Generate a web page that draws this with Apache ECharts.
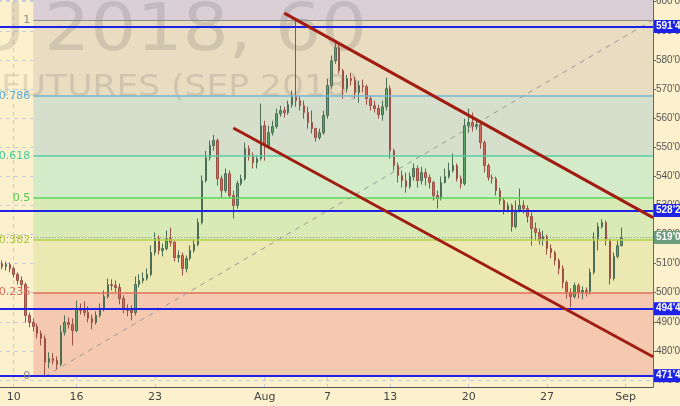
<!DOCTYPE html>
<html><head><meta charset="utf-8">
<script src="https://cdn.jsdelivr.net/npm/echarts@6/dist/echarts.min.js"></script>
<style>html,body{margin:0;padding:0;background:#fdf1cd}#c{width:680px;height:406px}</style>
</head><body><div id="c"></div>
<script>
// trading days (4 hourly-ish bars per day)
const days = ['Jul 9','Jul 10','Jul 11','Jul 12','Jul 13','Jul 16','Jul 17','Jul 18','Jul 19','Jul 20','Jul 23','Jul 24','Jul 25','Jul 26','Jul 27','Jul 30','Jul 31','Aug 1','Aug 2','Aug 3','Aug 6','Aug 7','Aug 8','Aug 9','Aug 10','Aug 13','Aug 14','Aug 15','Aug 16','Aug 17','Aug 20','Aug 21','Aug 22','Aug 23','Aug 24','Aug 27','Aug 28','Aug 29','Aug 30','Aug 31','Sep 4','Sep 5'];
const barsPerDay = 4;
const tickDays = ['Jul 10','Jul 16','Jul 23','Aug 1','Aug 7','Aug 13','Aug 20','Aug 27','Sep 4'];
const tickLabels = ['10','16','23','Aug','7','13','20','27','Sep'];

const opens = [509.4,510.0,509.0,509.7,508.3,506.3,504.2,502.8,492.2,489.8,
488.4,486.0,484.3,476.1,477.4,476.7,475.4,486.4,489.8,489.1,
487.0,494.6,493.9,493.2,491.2,489.8,492.2,494.3,498.7,502.8,
502.5,501.8,498.0,494.6,493.9,493.2,502.8,504.2,504.9,506.3,
513.8,518.6,514.5,515.2,518.6,517.3,512.1,512.8,508.3,511.8,
514.5,516.6,524.1,538.5,546.4,550.6,552.3,539.2,535.1,540.9,
533.4,530.0,537.5,539.2,549.5,547.1,544.7,546.1,557.4,550.6,
555.0,557.1,561.5,562.6,561.9,564.6,567.4,566.0,564.3,561.9,
558.5,556.4,553.3,555.0,560.9,571.2,579.7,584.2,576.3,570.1,
573.6,572.9,568.8,571.2,570.8,566.7,564.3,563.3,561.2,563.9,
570.1,548.8,543.7,540.3,538.5,536.5,539.9,542.7,538.5,541.3,
539.6,537.9,533.4,532.4,537.9,539.9,542.0,543.7,539.2,537.5,
557.4,558.5,557.1,557.8,551.6,543.7,539.6,539.2,535.1,531.7,
528.2,530.0,522.7,528.2,530.0,528.9,526.2,522.1,520.7,518.0,
519.3,515.2,513.8,511.1,508.3,503.5,500.1,498.7,502.5,500.1,
500.8,500.4,507.0,518.0,522.7,524.1,518.0,504.9,512.5,516.2];
const closes = [510.0,509.0,509.7,508.3,506.3,504.2,502.8,492.2,489.8,488.4,
486.0,484.3,476.1,477.4,476.7,475.4,486.4,489.8,489.1,487.0,
494.6,493.9,493.2,491.2,489.8,492.2,494.3,498.7,502.8,502.5,
501.8,498.0,494.6,493.9,493.2,502.8,504.2,504.9,506.3,513.8,
518.6,514.5,515.2,518.6,517.3,512.1,512.8,508.3,511.8,514.5,
516.6,524.1,538.5,546.4,550.6,552.3,539.2,535.1,540.9,533.4,
530.0,537.5,539.2,549.5,547.1,544.7,546.1,557.4,550.6,555.0,
557.1,561.5,562.6,561.9,564.6,567.4,566.0,564.3,561.9,558.5,
556.4,553.3,555.0,560.9,571.2,579.7,584.2,576.3,570.1,573.6,
572.9,568.8,571.2,570.8,566.7,564.3,563.3,561.2,563.9,570.1,
548.8,543.7,540.3,538.5,536.5,539.9,542.7,538.5,541.3,539.6,
537.9,533.4,532.4,537.9,539.9,542.0,543.7,539.2,537.5,557.4,
558.5,557.1,557.8,551.6,543.7,539.6,539.2,535.1,531.7,528.2,
530.0,522.7,528.2,530.0,528.9,526.2,522.1,520.7,518.0,519.3,
515.2,513.8,511.1,508.3,503.5,500.1,498.7,502.5,500.1,500.8,
500.4,507.0,518.0,522.7,524.1,518.0,504.9,512.5,516.2,519.0];
const lows = [508.3,508.0,507.6,507.0,505.2,502.8,500.8,489.8,488.1,486.7,
484.3,481.9,471.25,474.0,475.4,473.7,474.7,485.3,487.7,481.9,
486.4,492.5,491.9,489.8,487.4,489.1,491.5,493.6,498.0,500.8,
500.1,496.0,492.9,491.9,490.5,492.2,501.8,503.2,504.2,505.6,
512.8,513.1,512.5,514.5,515.9,510.7,510.4,505.9,507.0,511.1,
513.8,515.9,523.4,537.9,545.4,548.8,536.8,532.7,534.4,532.4,
525.5,528.9,536.8,538.5,545.4,542.7,542.7,545.4,545.4,549.5,
554.0,556.4,560.5,560.2,561.2,563.6,563.9,562.6,559.8,556.4,
554.7,551.9,552.6,554.3,559.8,570.1,578.7,575.3,566.7,568.8,
571.2,566.7,565.3,568.8,564.6,562.6,561.9,559.8,559.1,562.6,
546.1,542.0,537.9,536.1,534.4,535.8,538.5,536.1,537.2,536.8,
535.8,531.7,528.9,531.7,537.5,539.2,541.3,538.2,535.8,536.8,
555.0,555.4,556.0,549.5,541.3,538.5,537.5,533.4,530.3,526.9,
527.6,521.0,522.1,527.6,527.2,524.1,516.2,518.0,516.6,516.2,
513.1,511.8,509.4,506.3,501.5,498.0,495.0,498.0,498.0,497.7,
498.7,499.4,506.3,514.5,522.1,516.2,502.8,504.2,511.8,515.9];
const highs = [511.4,511.1,510.7,510.4,509.0,507.0,505.6,503.5,493.2,491.2,
489.4,487.0,485.3,479.5,479.2,478.1,488.8,492.2,491.5,491.2,
497.3,496.3,497.0,495.3,492.5,493.6,496.3,500.8,504.9,504.6,
504.2,503.2,499.1,496.0,495.6,505.6,506.3,507.0,508.3,516.2,
520.7,519.7,516.9,521.4,522.4,518.0,514.5,513.8,512.8,516.2,
518.3,525.5,540.3,548.8,552.3,554.3,553.0,540.3,542.7,542.0,
535.1,538.5,540.6,551.6,550.6,548.2,547.1,565.0,559.1,557.4,
559.1,563.3,564.3,563.9,566.0,569.4,593.75,567.7,566.0,563.9,
562.6,556.7,556.4,562.6,573.6,581.5,585.9,585.2,577.0,574.9,
575.6,574.2,572.9,573.2,571.5,567.7,566.0,564.6,566.0,573.9,
571.2,549.5,544.7,542.0,541.3,541.3,544.4,543.7,543.3,542.7,
540.6,538.5,535.1,539.9,542.7,544.7,547.8,544.4,540.3,559.8,
563.3,561.9,559.8,558.5,552.3,544.4,540.6,539.9,536.1,532.7,
531.0,530.6,531.7,535.8,531.7,530.0,527.6,524.1,522.1,521.4,
520.0,516.6,514.5,511.8,509.4,504.2,501.5,503.5,503.2,502.2,
501.8,508.3,520.7,524.1,525.2,524.8,518.6,513.8,518.0,522.4];

// Fibonacci retracement
const fibLow = 471.25, fibHigh = 593.75;
const fibLevels = [0, 0.236, 0.382, 0.5, 0.618, 0.786, 1];
const fibLabels = ['0','0.236','0.382','0.5','0.618','0.786','1'];
const fibStartBar = 9, fibLowBar = 12;
// horizontal support/resistance lines
const hLevels = [591.5, 528.25, 494.5, 471.5];
const lastPrice = 519.0;
// trend channel [barIndex, price]
const channelUpper = [[73, 596.1], [167, 525.8]];
const channelLower = [[60, 556.6], [167, 478.0]];

const yMin = 467.6, yMax = 600.6;

const cats = [];
days.forEach(d => { for (let h = 1; h <= barsPerDay; h++) cats.push(d + ' #' + h); });
const lastIdx = cats.length - 1;
const tickIdx = {};
tickDays.forEach((d, i) => { tickIdx[days.indexOf(d) * barsPerDay] = tickLabels[i]; });

const ohlc = opens.map((o, i) => [o, closes[i], lows[i], highs[i]]);
const fmt = v => { const i = Math.floor(v + 1e-9); const e = Math.round((v - i) * 8); return i + "'" + e; };

const fibPrice = f => fibLow + f * (fibHigh - fibLow);
const zoneColors = ['#f5c9b0','#ece8b2','#d8eab6','#d4ebc9','#d6dfcc','#e8dcc1','#d9cfd5'];
const lineColors = ['#8f8a88','#e0705c','#b3d346','#5bd65b','#5acda6','#72b4d4','#8f8a88'];
const labelColors = ['#8f8a88','#e06a5a','#a9c63c','#4ccc4c','#3fcb9f','#5aa8d6','#8f8a88'];

const areas = [];
fibLevels.forEach((f, i) => {
  const top = i < fibLevels.length - 1 ? fibPrice(fibLevels[i + 1]) : yMax;
  areas.push([{ xAxis: cats[fibStartBar], yAxis: fibPrice(f), itemStyle: { color: zoneColors[i] } },
              { xAxis: cats[lastIdx], yAxis: top }]);
});

const tagLabel = (text, bg) => ({ show: true, position: 'end', formatter: text, backgroundColor: bg, color: '#fff',
  fontSize: 10, fontWeight: 'bold', padding: [2, 1, 1, 2], distance: 1, fontFamily: 'Liberation Sans' });

const lines = [];
fibLevels.forEach((f, i) => {
  lines.push([{ coord: [cats[fibStartBar], fibPrice(f)],
    lineStyle: { color: lineColors[i], width: (f === 0 || f === 1) ? 1 : 1.5, type: 'solid' },
    label: { show: true, position: 'start', formatter: fibLabels[i], color: labelColors[i], fontSize: 11, distance: 3, fontFamily: 'DejaVu Sans' } },
    { coord: [cats[lastIdx], fibPrice(f)] }]);
});
// dashed fib trend line
lines.push([{ coord: [cats[fibLowBar], fibLow], lineStyle: { color: '#9a9a9a', width: 1, type: [5, 5] }, label: { show: false } },
            { coord: [cats[lastIdx], fibHigh] }]);
// last price dotted line
lines.push([{ coord: [cats[0], lastPrice], lineStyle: { color: '#8a8a8a', width: 1, type: [1, 2] },
  label: tagLabel(fmt(lastPrice), '#6b9c7c') }, { coord: [cats[lastIdx], lastPrice] }]);
// blue horizontal levels
hLevels.forEach(p => {
  lines.push([{ coord: [cats[0], p], lineStyle: { color: '#1d22e6', width: 2, type: 'solid' },
    label: tagLabel(fmt(p), '#1d22e6') }, { coord: [cats[lastIdx], p] }]);
});
// channel lines
[channelUpper, channelLower].forEach(ch => {
  lines.push([{ coord: [cats[ch[0][0]], ch[0][1]], lineStyle: { color: '#a11d12', width: 3, type: 'solid' }, label: { show: false } },
              { coord: [cats[ch[1][0]], ch[1][1]] }]);
});

const wm = 'rgba(80,80,80,0.16)';
const chart = echarts.init(document.getElementById('c'), null, { renderer: 'canvas' });
chart.setOption({
  animation: false,
  backgroundColor: '#fdf1cd',
  grid: { left: -2, right: 27, top: 0, bottom: 19, containLabel: false, outerBoundsMode: 'none' },
  graphic: [
    { type: 'text', left: -30, top: 0, z: 2, silent: true, scaleX: 1.15,
      style: { text: 'U', font: '66px "DejaVu Sans"', fill: wm } },
    { type: 'text', left: 44, top: 0, z: 2, silent: true, scaleX: 1.1,
      style: { text: '2018, 60', font: '66px "DejaVu Sans"', fill: wm } },
    { type: 'text', left: 1, top: 73, z: 2, silent: true, scaleX: 1.15,
      style: { text: 'FUTURES (SEP 2018)', font: '30px "DejaVu Sans"', fill: wm } }
  ],
  xAxis: {
    type: 'category', data: cats, boundaryGap: false,
    axisLine: { lineStyle: { color: '#555', width: 1 } },
    axisTick: { show: false },
    axisLabel: { interval: (i) => tickIdx[i] !== undefined, formatter: (v, i) => tickIdx[i] || '', color: '#444', fontSize: 11, margin: 5, fontFamily: 'DejaVu Sans' },
    splitLine: { show: true, interval: (i) => tickIdx[i] !== undefined, lineStyle: { color: '#c4cce0', type: [4, 4] } }
  },
  yAxis: {
    type: 'value', position: 'right', min: yMin, max: yMax, splitNumber: 13, scale: true,
    axisLine: { show: true, lineStyle: { color: '#666' } },
    axisTick: { show: true, length: 3, lineStyle: { color: '#666' } },
    axisLabel: { formatter: fmt, color: '#555', fontSize: 10, margin: 3, showMinLabel: false, showMaxLabel: false, fontFamily: 'Liberation Sans' },
    splitLine: { show: true, lineStyle: { color: '#c4cce0', type: [4, 4] } }
  },
  series: [
    { type: 'line', data: [], z: 1, silent: true,
      markArea: { silent: true, label: { show: false }, data: areas } },
    { type: 'candlestick', data: ohlc, z: 3, barWidth: 2,
      itemStyle: { color: '#5aa66b', color0: '#d8685c', borderColor: '#4c6e56', borderColor0: '#9b5046', borderWidth: 1 } },
    { type: 'line', data: [], z: 5, silent: true,
      markLine: { silent: true, symbol: ['none', 'none'], animation: false, data: lines } }
  ]
});
</script></body></html>
